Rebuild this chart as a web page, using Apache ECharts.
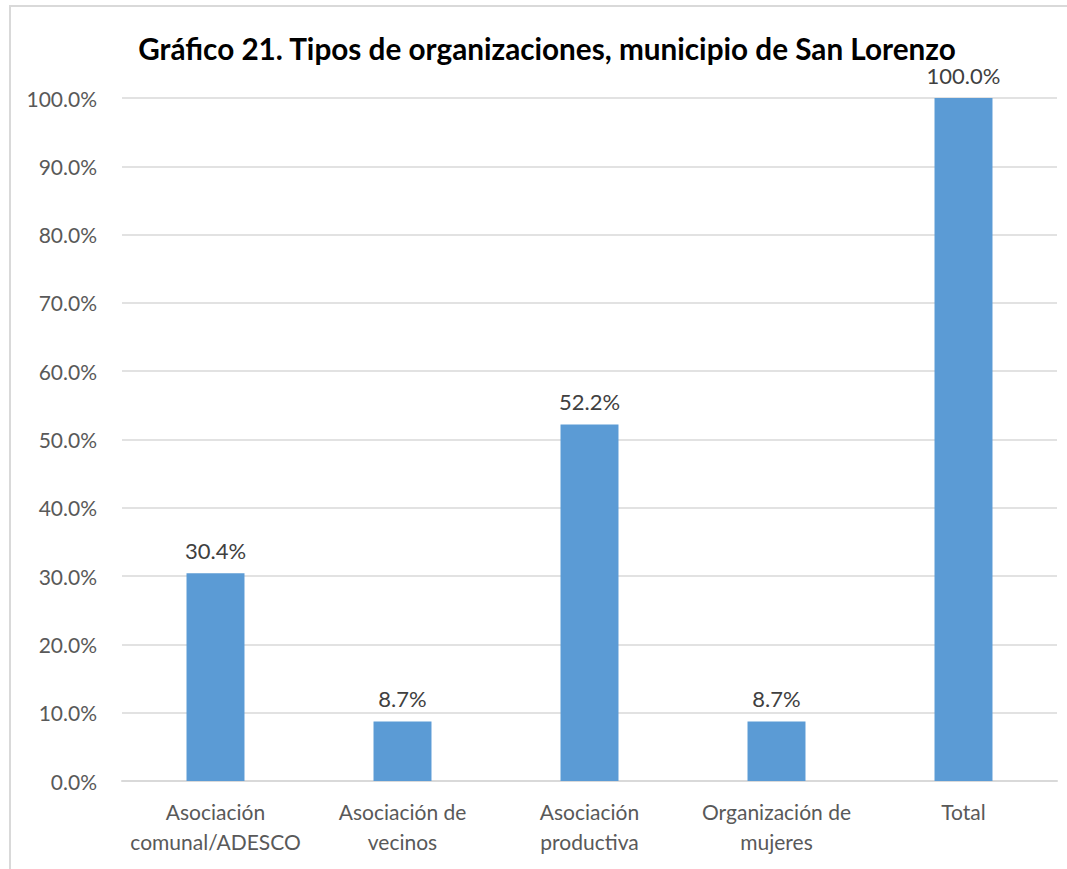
<!DOCTYPE html>
<html>
<head>
<meta charset="utf-8">
<script src="https://cdn.jsdelivr.net/npm/echarts@6/dist/echarts.min.js"></script>
<style>
  html, body { margin: 0; padding: 0; background: #fff; }
  #frame { position: absolute; left: 9px; top: 5px; width: 1080px; height: 900px; border: 2px solid #d9d9d9; box-sizing: border-box; }
  #chart { position: absolute; left: 0; top: 0; width: 1067px; height: 869px; }
</style>
</head>
<body>
<div id="frame"></div>
<div id="chart"></div>
<script>
const categories = ['Asociación\ncomunal/ADESCO', 'Asociación de\nvecinos', 'Asociación\nproductiva', 'Organización de\nmujeres', 'Total'];
const shares = [30.4, 8.7, 52.2, 8.7, 100.0];
const yTicks = { min: 0, max: 100, interval: 10 };

const chart = echarts.init(document.getElementById('chart'), null, { renderer: 'svg' });

const option = {
  animation: false,
  title: {
    text: 'Gráfico 21. Tipos de organizaciones, municipio de San Lorenzo',
    left: 542,
    textAlign: 'center',
    top: 28,
    textStyle: { fontFamily: 'Lato', fontWeight: 'bold', fontSize: 29.7, color: '#000' }
  },
  grid: { left: 122, right: 10, top: 98, bottom: 88 },
  xAxis: {
    type: 'category',
    data: categories,
    axisLine: { lineStyle: { color: '#d9d9d9', width: 2 } },
    axisTick: { show: false },
    axisLabel: {
      color: '#595959',
      fontFamily: 'Lato',
      fontSize: 21,
      lineHeight: 30,
      margin: 15,
      interval: 0
    }
  },
  yAxis: {
    type: 'value',
    min: yTicks.min,
    max: yTicks.max,
    interval: yTicks.interval,
    axisLine: { show: false },
    axisTick: { show: false },
    splitLine: { lineStyle: { color: '#d9d9d9', width: 1.5 } },
    axisLabel: {
      color: '#595959',
      fontFamily: 'Lato',
      fontSize: 21,
      margin: 25,
      formatter: v => v.toFixed(1) + '%'
    }
  },
  series: [{
    type: 'bar',
    data: shares,
    barWidth: '31%',
    itemStyle: { color: '#5b9bd5' },
    label: {
      show: true,
      position: 'top',
      distance: 12,
      color: '#404040',
      fontFamily: 'Lato',
      fontSize: 22,
      formatter: p => p.value.toFixed(1) + '%'
    }
  }]
};

chart.setOption(option);
</script>
</body>
</html>
